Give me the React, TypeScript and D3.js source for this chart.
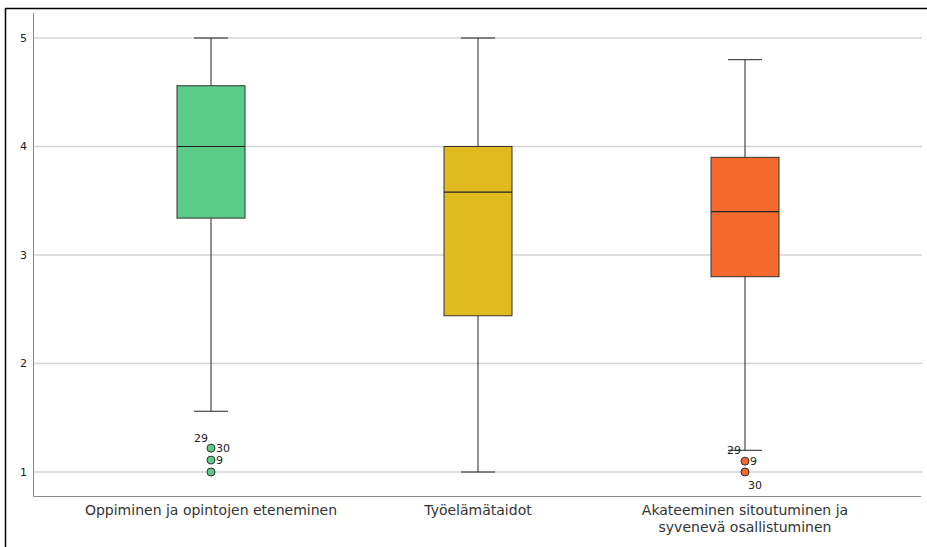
import React from "react";
import * as d3 from "d3";

const categories = [
  ["Oppiminen ja opintojen eteneminen"],
  ["Työelämätaidot"],
  ["Akateeminen sitoutuminen ja", "syvenevä osallistuminen"],
];
const whiskerLow = [1.56, 1.0, 1.2];
const q1 = [3.34, 2.44, 2.8];
const median = [4.0, 3.58, 3.4];
const q3 = [4.56, 4.0, 3.9];
const whiskerHigh = [5.0, 5.0, 4.8];
const boxColors = ["#5bcb8a", "#dfbb1f", "#f46a2c"];
// outliers: [categoryIndex, value]
const outlierValues: [number, number][] = [
  [0, 1.22],
  [0, 1.11],
  [0, 1.0],
  [2, 1.1],
  [2, 1.0],
];
// outlier labels: [categoryIndex, value, label, placement]
const outlierLabels: [number, number, string, string][] = [
  [0, 1.22, "29", "above-left"],
  [0, 1.22, "30", "right"],
  [0, 1.11, "9", "right"],
  [2, 1.2, "29", "left"],
  [2, 1.1, "9", "right"],
  [2, 1.0, "30", "below-right"],
];
const yTicks = [1, 2, 3, 4, 5];

export default function App() {
  const W = 927;
  const H = 547;
  const y = d3.scaleLinear().domain([1, 5]).range([472, 38]);
  const x = d3.scalePoint<number>().domain([0, 1, 2]).range([211, 745]);
  const axisX = 33.5;
  const axisBottom = 496.5;
  const boxW = 68;
  const capW = 34;
  const font = "DejaVu Sans, Verdana, sans-serif";

  const labelPos = (p: string) => {
    switch (p) {
      case "above-left":
        return { dx: -10, dy: -10, anchor: "middle" };
      case "right":
        return { dx: 5, dy: 0, anchor: "start" };
      case "left":
        return { dx: -4, dy: 0, anchor: "end" };
      case "below-right":
        return { dx: 3, dy: 13, anchor: "start" };
      default:
        return { dx: 5, dy: 0, anchor: "start" };
    }
  };

  return (
    <svg
      width={W}
      height={H}
      style={{ position: "absolute", left: 0, top: 0, background: "#fff" }}
      fontFamily={font}
    >
      <rect x={0} y={0} width={W} height={H} fill="#fff" />
      <rect x={5.5} y={8.5} width={W + 20} height={H + 20} fill="none" stroke="#000" strokeWidth={1.5} />
      {/* gridlines */}
      {yTicks.map((t) => (
        <line key={"g" + t} x1={axisX} x2={922} y1={y(t)} y2={y(t)} stroke="#d4d4d4" strokeWidth={1.5} />
      ))}
      {/* axes */}
      <line x1={axisX} x2={axisX} y1={13} y2={axisBottom} stroke="#888" strokeWidth={1} />
      <line x1={axisX} x2={921} y1={axisBottom} y2={axisBottom} stroke="#888" strokeWidth={1} />
      {yTicks.map((t) => (
        <text key={"t" + t} x={27} y={y(t)} dy="0.35em" textAnchor="end" fontSize={11} fill="#222">
          {t}
        </text>
      ))}
      {/* boxes */}
      {categories.map((_, i) => {
        const cx = x(i)!;
        return (
          <g key={"b" + i}>
            <line x1={cx} x2={cx} y1={y(whiskerHigh[i])} y2={y(q3[i])} stroke="#222" strokeWidth={1} />
            <line x1={cx} x2={cx} y1={y(q1[i])} y2={y(whiskerLow[i])} stroke="#222" strokeWidth={1} />
            <line x1={cx - capW / 2} x2={cx + capW / 2} y1={y(whiskerHigh[i])} y2={y(whiskerHigh[i])} stroke="#222" strokeWidth={1} />
            <line x1={cx - capW / 2} x2={cx + capW / 2} y1={y(whiskerLow[i])} y2={y(whiskerLow[i])} stroke="#222" strokeWidth={1} />
            <rect
              x={cx - boxW / 2}
              y={y(q3[i])}
              width={boxW}
              height={y(q1[i]) - y(q3[i])}
              fill={boxColors[i]}
              stroke="#333"
              strokeWidth={1}
            />
            <line x1={cx - boxW / 2} x2={cx + boxW / 2} y1={y(median[i])} y2={y(median[i])} stroke="#222" strokeWidth={1.2} />
          </g>
        );
      })}
      {/* outliers */}
      {outlierValues.map(([ci, v], k) => (
        <circle key={"o" + k} cx={x(ci)!} cy={y(v)} r={4} fill={boxColors[ci]} stroke="#333" strokeWidth={1} />
      ))}
      {outlierLabels.map(([ci, v, lab, p], k) => {
        const lp = labelPos(p);
        return (
          <text
            key={"l" + k}
            x={x(ci)! + lp.dx}
            y={y(v) + lp.dy}
            dy="0.35em"
            textAnchor={lp.anchor}
            fontSize={11}
            fill="#222"
          >
            {lab}
          </text>
        );
      })}
      {/* x labels */}
      {categories.map((lines, i) => (
        <text key={"x" + i} x={x(i)!} y={514.5} textAnchor="middle" fontSize={14} fill="#333">
          {lines.map((ln, j) => (
            <tspan key={j} x={x(i)!} dy={j === 0 ? 0 : 17}>
              {ln}
            </tspan>
          ))}
        </text>
      ))}
    </svg>
  );
}
